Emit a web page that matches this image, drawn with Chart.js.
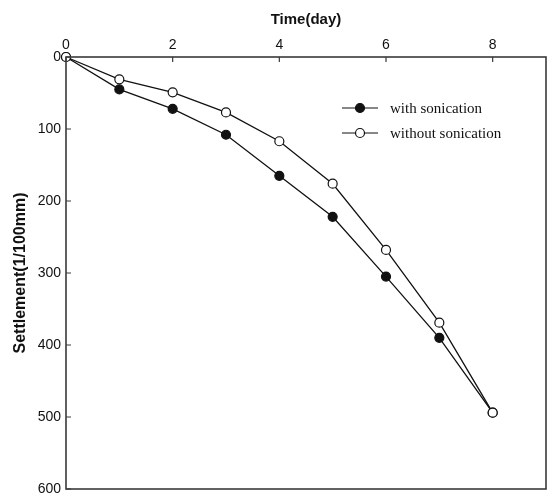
<!DOCTYPE html>
<html>
<head>
<meta charset="utf-8">
<script src="https://cdn.jsdelivr.net/npm/chart.js@4/dist/chart.umd.min.js"></script>
<style>
  html, body { margin: 0; padding: 0; background: #fff; }
  #wrap { width: 548px; height: 497px; }
</style>
</head>
<body>
<div id="wrap"><canvas id="settlement_chart"></canvas></div>
<script>
// DATA
const days = [0, 1, 2, 3, 4, 5, 6, 7, 8];
const with_sonication = [0, 45, 72, 108, 165, 222, 305, 390, 494];
const without_sonication = [0, 31, 49, 77, 117, 176, 268, 369, 494];
const x_ticks = [0, 2, 4, 6, 8];
const y_ticks = [0, 100, 200, 300, 400, 500, 600];
const series_labels = ["with sonication", "without sonication"];

const ink = "#111";
const frame = "#3a3a3a";

function toPoints(values){
	return days.map((d, i) => ({ x: d, y: values[i] }));
}

// box round the plot + inward tick marks
const framePlugin = {
	id: "framePlugin",
	afterDraw(chart){
		const c = chart.ctx;
		const a = chart.chartArea;
		const xs = chart.scales.x, ys = chart.scales.y;
		c.save();
		c.strokeStyle = frame;
		c.lineWidth = 1.6;
		c.strokeRect(a.left, a.top, a.right - a.left, a.bottom - a.top);
		c.lineWidth = 1.2;
		c.beginPath();
		x_ticks.forEach(v => {
			const px = xs.getPixelForValue(v);
			c.moveTo(px, a.top);
			c.lineTo(px, a.top + 5);
		});
		y_ticks.forEach(v => {
			const py = ys.getPixelForValue(v);
			c.moveTo(a.left, py);
			c.lineTo(a.left + 5, py);
		});
		c.stroke();
		c.restore();
	}
};

// legend drawn inside the plot, top right
const innerLegend = {
	id: "innerLegend",
	afterDraw(chart){
		const c = chart.ctx;
		const lx = 342, ly = 108, gap = 25, len = 36;
		c.save();
		chart.data.datasets.forEach((ds, i) => {
			const y = ly + i * gap;
			c.strokeStyle = ink;
			c.lineWidth = 1.2;
			c.beginPath();
			c.moveTo(lx, y);
			c.lineTo(lx + len, y);
			c.stroke();
			c.beginPath();
			c.arc(lx + len / 2, y, 4.5, 0, Math.PI * 2);
			c.fillStyle = ds.pointBackgroundColor;
			c.fill();
			c.stroke();
			c.fillStyle = ink;
			c.font = "15px 'Liberation Serif', 'Times New Roman', serif";
			c.textBaseline = "middle";
			c.fillText(ds.label, lx + len + 12, y + 1);
		});
		c.restore();
	}
};

const ctx = document.getElementById("settlement_chart").getContext("2d");

new Chart(ctx, {
	type: "scatter",
	data: {
		datasets: [{
			label: series_labels[0],
			data: toPoints(with_sonication),
			showLine: true,
			clip: false,
			borderColor: ink,
			borderWidth: 1.3,
			pointBackgroundColor: ink,
			pointBorderColor: ink,
			pointBorderWidth: 1.2,
			pointRadius: 4.5,
			order: 2
		},{
			label: series_labels[1],
			data: toPoints(without_sonication),
			showLine: true,
			clip: false,
			borderColor: ink,
			borderWidth: 1.3,
			pointBackgroundColor: "#fff",
			pointBorderColor: ink,
			pointBorderWidth: 1.2,
			pointRadius: 4.5,
			order: 1
		}]
	},
	options: {
		responsive: true,
		maintainAspectRatio: false,
		animation: false,
		layout: { autoPadding: false, padding: { left: 0, right: 2, top: 0, bottom: 8 } },
		plugins: {
			legend: { display: false },
			tooltip: { enabled: false }
		},
		scales: {
			x: {
				type: "linear",
				position: "top",
				min: 0,
				max: 9,
				afterBuildTicks: scale => { scale.ticks = x_ticks.map(v => ({ value: v })); },
				afterFit: scale => { scale.height = 57; scale.paddingLeft = 0; scale.paddingRight = 0; },
				grid: { display: false, drawTicks: false },
				border: { display: false },
				ticks: {
					color: ink,
					padding: 3,
					maxRotation: 0,
					font: { family: "'Liberation Sans', Arial, sans-serif", size: 14 }
				},
				title: {
					display: true,
					text: "Time(day)",
					color: ink,
					padding: { top: 11, bottom: 0 },
					font: { family: "'Liberation Sans', Arial, sans-serif", size: 15, weight: "bold" }
				}
			},
			y: {
				type: "linear",
				reverse: true,
				min: 0,
				max: 600,
				afterBuildTicks: scale => { scale.ticks = y_ticks.map(v => ({ value: v })); },
				afterFit: scale => { scale.width = 66; scale.paddingTop = 0; scale.paddingBottom = 0; },
				grid: { display: false, drawTicks: false },
				border: { display: false },
				ticks: {
					color: ink,
					padding: 5,
					font: { family: "'Liberation Sans', Arial, sans-serif", size: 14 }
				},
				title: {
					display: true,
					text: "Settlement(1/100mm)",
					color: ink,
					padding: { top: 11, bottom: 0 },
					font: { family: "'Liberation Sans', Arial, sans-serif", size: 16, weight: "bold" }
				}
			}
		}
	},
	plugins: [framePlugin, innerLegend]
});
</script>
</body>
</html>
